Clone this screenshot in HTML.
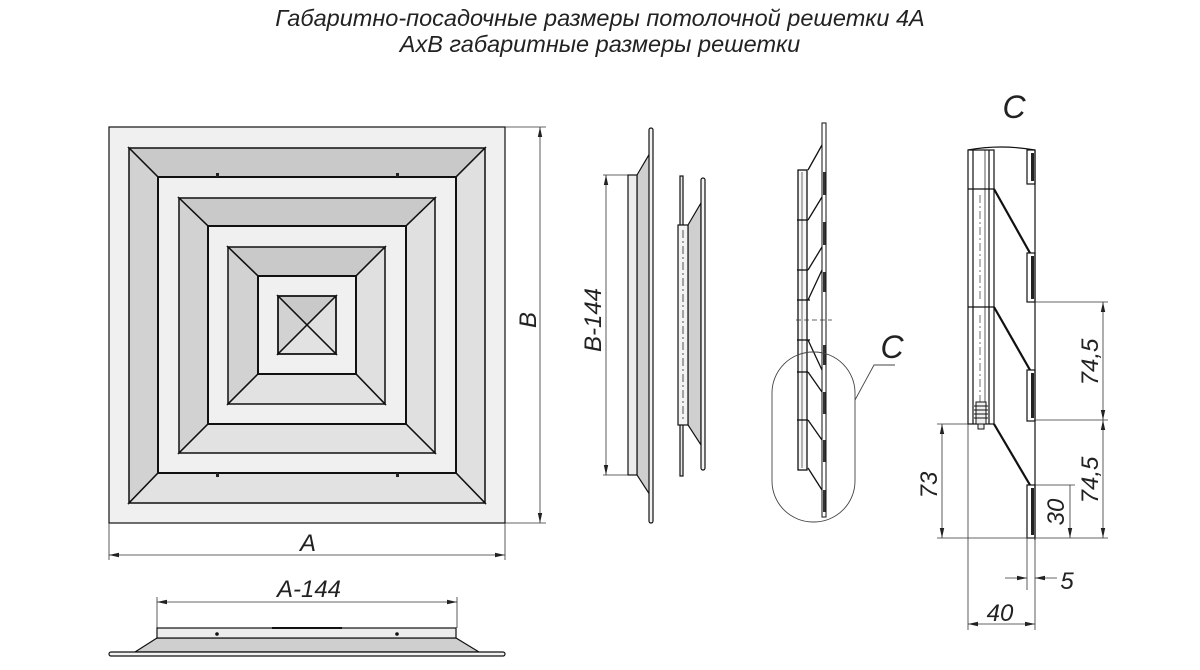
<!DOCTYPE html>
<html><head><meta charset="utf-8"><style>
html,body{margin:0;padding:0;background:#fff;}
svg{display:block;}
text{font-family:"Liberation Sans",sans-serif;font-style:italic;fill:#222;}
</style></head><body>
<svg width="1200" height="670" viewBox="0 0 1200 670" xmlns="http://www.w3.org/2000/svg">
<defs>
<marker id="ar" viewBox="0 0 10 6" refX="10" refY="3" markerWidth="10" markerHeight="6" orient="auto-start-reverse" markerUnits="userSpaceOnUse"><path d="M0,0.8 L10,3 L0,5.2z" fill="#222"/></marker>
</defs>
<text x="600" y="26" font-size="23.5" text-anchor="middle" fill="#444">Габаритно-посадочные размеры потолочной решетки 4А</text>
<text x="600" y="52" font-size="23.5" text-anchor="middle" fill="#444">АхВ габаритные размеры решетки</text>

<!-- front view -->
<g stroke="#111" stroke-width="1.5">
<rect x="109" y="127" width="396" height="396" fill="#f0f0f0" stroke-width="1.2"/>
<polygon points="129,148 485,148 456,177 158,177" fill="#c9c9c9"/>
<polygon points="129,148 158,177 158,473 129,503" fill="#d2d2d2"/>
<polygon points="485,148 485,503 456,473 456,177" fill="#e0e0e0"/>
<polygon points="129,503 158,473 456,473 485,503" fill="#e2e2e2"/>
<rect x="158" y="177" width="298" height="296" fill="#f0f0f0" stroke-width="2"/>
<polygon points="179,198 435,198 406,226 208,226" fill="#c9c9c9"/>
<polygon points="179,198 208,226 208,424 179,453" fill="#d2d2d2"/>
<polygon points="435,198 435,453 406,424 406,226" fill="#e0e0e0"/>
<polygon points="179,453 208,424 406,424 435,453" fill="#e2e2e2"/>
<rect x="208" y="226" width="198" height="198" fill="#f0f0f0" stroke-width="2"/>
<polygon points="228,247 385,247 356,276 258,276" fill="#c9c9c9"/>
<polygon points="228,247 258,276 258,374 228,404" fill="#d2d2d2"/>
<polygon points="385,247 385,404 356,374 356,276" fill="#e0e0e0"/>
<polygon points="228,404 258,374 356,374 385,404" fill="#e2e2e2"/>
<rect x="258" y="276" width="98" height="98" fill="#f0f0f0" stroke-width="2"/>
<polygon points="278,296 336,296 307,325" fill="#c9c9c9"/>
<polygon points="278,296 307,325 278,354" fill="#d2d2d2"/>
<polygon points="336,296 336,354 307,325" fill="#e0e0e0"/>
<polygon points="278,354 307,325 336,354" fill="#e2e2e2"/>
<rect x="278" y="296" width="58" height="58" fill="none"/>
</g>
<g fill="#222"><rect x="216" y="173" width="3" height="4"/><rect x="396" y="173" width="3" height="4"/><rect x="216" y="473" width="3" height="4"/><rect x="396" y="473" width="3" height="4"/></g>
<g stroke="#333" stroke-width="0.8" fill="none">
<line x1="505" y1="127" x2="546" y2="127"/><line x1="505" y1="523" x2="546" y2="523"/>
<line x1="540" y1="127" x2="540" y2="523" marker-start="url(#ar)" marker-end="url(#ar)"/>
<line x1="109" y1="523" x2="109" y2="560"/><line x1="505" y1="523" x2="505" y2="560"/>
<line x1="109" y1="555" x2="505" y2="555" marker-start="url(#ar)" marker-end="url(#ar)"/>
</g>
<text x="0" y="0" font-size="24" text-anchor="middle" transform="translate(536,320) rotate(-90)">B</text>
<text x="308" y="551" font-size="24" text-anchor="middle">A</text>

<!-- bottom view -->
<g stroke="#333" stroke-width="0.8" fill="none">
<line x1="157" y1="597" x2="157" y2="628"/><line x1="457" y1="597" x2="457" y2="628"/>
<line x1="157" y1="602" x2="457" y2="602" marker-start="url(#ar)" marker-end="url(#ar)"/>
</g>
<text x="309" y="597" font-size="24" text-anchor="middle">A-144</text>
<g stroke="#111" stroke-width="1.2">
<polygon points="157,638 456,638 479,652 135,652" fill="#cfcfcf"/>
<rect x="157" y="628" width="299" height="10" fill="#ececec"/>
<rect x="109" y="652" width="396" height="4" rx="2" fill="#f2f2f2"/>
<line x1="272" y1="628" x2="342" y2="628" stroke-width="2"/>
</g>
<circle cx="217" cy="634" r="1.8" fill="#111"/><circle cx="397" cy="634" r="1.8" fill="#111"/>

<!-- side view 1 -->
<g stroke="#111" stroke-width="1.2">
<polygon points="637,175 650,153 650,495 637,475" fill="#cfcfcf"/>
<rect x="628" y="175" width="9" height="300" fill="#ececec"/>
<rect x="649" y="128" width="4" height="395" rx="2" fill="#f2f2f2"/>
</g>
<g stroke="#333" stroke-width="0.8" fill="none">
<line x1="603" y1="175" x2="628" y2="175"/><line x1="603" y1="475" x2="628" y2="475"/>
<line x1="606" y1="175" x2="606" y2="475" marker-start="url(#ar)" marker-end="url(#ar)"/>
</g>
<text x="0" y="0" font-size="24" text-anchor="middle" transform="translate(601,320) rotate(-90)">B-144</text>

<!-- side view 2 -->
<g stroke="#111" stroke-width="1.2">
<polygon points="688,225 701,203 701,445 688,425" fill="#cfcfcf"/>
<rect x="680" y="176" width="3" height="300" fill="#e8e8e8"/>
<rect x="678" y="225" width="10" height="200" fill="#f2f2f2"/>
<rect x="701" y="178" width="4" height="292" rx="2" fill="#f2f2f2"/>
<line x1="683" y1="230" x2="683" y2="420" stroke-dasharray="8,3,2,3" stroke-width="0.7"/>
</g>

<!-- side view 3 -->
<g stroke="#111" stroke-width="1.3" fill="none">
<rect x="798" y="170" width="9" height="300" fill="#f6f6f6"/>
<line x1="802" y1="172" x2="802" y2="468" stroke-width="0.6"/>
<rect x="822" y="123" width="4" height="394" fill="#fff" stroke-width="1"/>
<polyline points="808,170 822,145"/>
<polyline points="808,220 822,197"/><polyline points="808,270 822,247"/>
<line x1="797" y1="220" x2="808" y2="220"/><line x1="797" y1="270" x2="808" y2="270"/>
<polyline points="808,300 822,270"/><polyline points="808,340 822,370"/>
<line x1="797" y1="300" x2="810" y2="300"/><line x1="797" y1="340" x2="810" y2="340"/>
<polyline points="808,372 822,392"/><polyline points="808,420 822,440"/><polyline points="808,468 822,490"/>
<line x1="797" y1="372" x2="808" y2="372"/><line x1="797" y1="420" x2="808" y2="420"/>
</g>
<g fill="#333"><rect x="823" y="172" width="2.5" height="23"/><rect x="823" y="222" width="2.5" height="23"/><rect x="823" y="272" width="2.5" height="20"/><rect x="823" y="345" width="2.5" height="20"/><rect x="823" y="392" width="2.5" height="22"/><rect x="823" y="440" width="2.5" height="22"/><rect x="823" y="490" width="2.5" height="22"/></g>
<line x1="796" y1="320" x2="832" y2="320" stroke="#333" stroke-width="0.8" stroke-dasharray="5,3"/>
<rect x="772" y="352" width="83" height="170" rx="41" fill="none" stroke="#444" stroke-width="0.9"/>
<polyline points="855,400 874,365 895,365" fill="none" stroke="#444" stroke-width="0.9"/>
<text x="892" y="358" font-size="32" text-anchor="middle">C</text>

<!-- detail C -->
<text x="1014" y="118" font-size="32" text-anchor="middle">C</text>
<g stroke="#111" stroke-width="1.2" fill="none">
<path d="M968,150 Q1000,144 1035,150"/>
<rect x="968" y="150" width="26" height="274" fill="#fff"/>
<line x1="973" y1="150" x2="973" y2="424"/><line x1="985" y1="150" x2="985" y2="424" stroke-width="0.7"/><line x1="989" y1="150" x2="989" y2="424"/>
<line x1="968" y1="189" x2="994" y2="189"/><line x1="968" y1="307" x2="994" y2="307"/>
<line x1="980" y1="195" x2="980" y2="300" stroke-width="0.6" stroke-dasharray="8,3,2,3"/>
<line x1="980" y1="315" x2="980" y2="410" stroke-width="0.6" stroke-dasharray="8,3,2,3"/>
<line x1="1035" y1="150" x2="1035" y2="540"/>
<line x1="994" y1="189" x2="1030" y2="253" stroke-width="2.2"/>
<line x1="994" y1="307" x2="1030" y2="370" stroke-width="2.2"/>
<line x1="994" y1="424" x2="1030" y2="485" stroke-width="2.2"/>
<rect x="1027" y="150" width="8" height="34"/><rect x="1027" y="253" width="8" height="49"/>
<rect x="1027" y="370" width="8" height="51"/><rect x="1027" y="485" width="8" height="53"/>
</g>
<g fill="#222"><rect x="1031" y="153" width="3" height="28"/><rect x="1031" y="256" width="3" height="43"/><rect x="1031" y="373" width="3" height="45"/><rect x="1031" y="488" width="3" height="47"/></g>
<g stroke="#111" stroke-width="1"><rect x="976" y="402" width="10" height="22" fill="#eee"/>
<line x1="974" y1="406" x2="988" y2="406"/><line x1="974" y1="410" x2="988" y2="410"/><line x1="974" y1="414" x2="988" y2="414"/><line x1="974" y1="418" x2="988" y2="418"/><rect x="978" y="424" width="6" height="5" fill="#eee"/></g>
<g stroke="#333" stroke-width="0.8" fill="none">
<line x1="1035" y1="302" x2="1108" y2="302"/><line x1="1035" y1="420" x2="1108" y2="420"/>
<line x1="937" y1="538" x2="1108" y2="538"/><line x1="1035" y1="485" x2="1075" y2="485"/>
<line x1="937" y1="424" x2="968" y2="424"/>
<line x1="1103" y1="302" x2="1103" y2="420" marker-start="url(#ar)" marker-end="url(#ar)"/>
<line x1="1103" y1="420" x2="1103" y2="538" marker-start="url(#ar)" marker-end="url(#ar)"/>
<line x1="1070" y1="485" x2="1070" y2="538" marker-end="url(#ar)"/>
<line x1="942" y1="424" x2="942" y2="538" marker-start="url(#ar)" marker-end="url(#ar)"/>
<line x1="968" y1="424" x2="968" y2="630"/><line x1="1027" y1="538" x2="1027" y2="590"/><line x1="1035" y1="538" x2="1035" y2="630"/>
<line x1="1005" y1="578" x2="1027" y2="578" marker-end="url(#ar)"/>
<line x1="1057" y1="578" x2="1035" y2="578" marker-end="url(#ar)"/>
<line x1="968" y1="624" x2="1035" y2="624" marker-start="url(#ar)" marker-end="url(#ar)"/>
</g>
<text x="0" y="0" font-size="24" text-anchor="middle" transform="translate(1098,362) rotate(-90)">74,5</text>
<text x="0" y="0" font-size="24" text-anchor="middle" transform="translate(1098,480) rotate(-90)">74,5</text>
<text x="0" y="0" font-size="24" text-anchor="middle" transform="translate(1064,512) rotate(-90)">30</text>
<text x="0" y="0" font-size="24" text-anchor="middle" transform="translate(937,485) rotate(-90)">73</text>
<text x="1067" y="589" font-size="24" text-anchor="middle">5</text>
<text x="1000" y="621" font-size="24" text-anchor="middle">40</text>
</svg>
</body></html>
